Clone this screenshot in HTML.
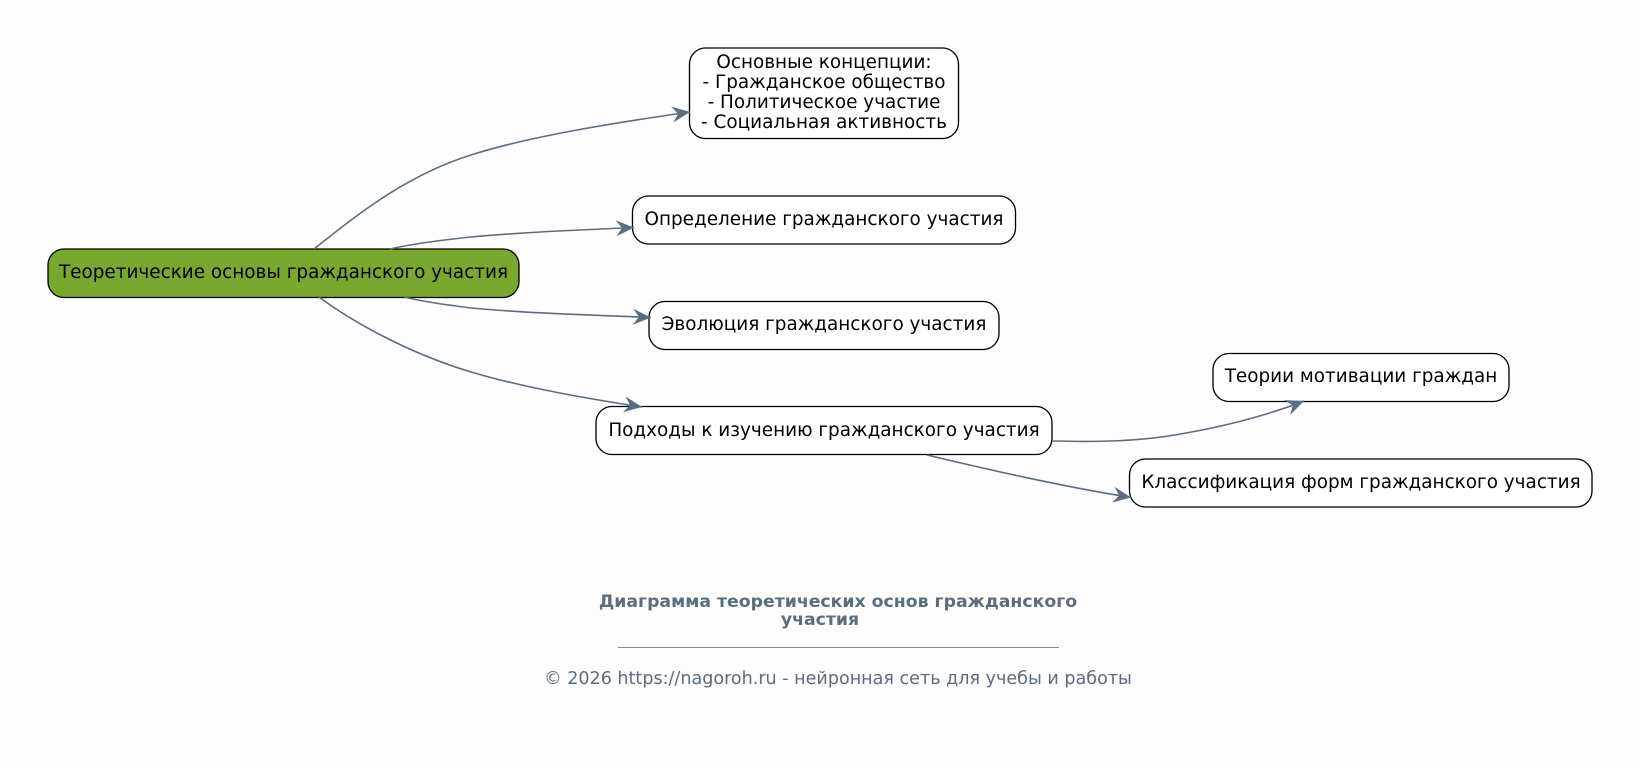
<!DOCTYPE html>
<html><head><meta charset="utf-8"><style>
html,body{margin:0;padding:0;background:#fdfdfd;width:1640px;height:763px;overflow:hidden}
svg{display:block}
.n{font-family:"DejaVu Sans",sans-serif;font-size:18.4px;fill:#000;text-anchor:middle}
.b{stroke:#000;stroke-width:1.33;fill:#fff}
.e{fill:none;stroke:#5d6d7e;stroke-width:1.6;marker-end:url(#v)}
.f{font-family:"DejaVu Sans",sans-serif;fill:#5d6d7e;text-anchor:middle}
</style></head><body>
<svg width="1640" height="763" viewBox="0 0 1640 763" xmlns="http://www.w3.org/2000/svg">
<defs><marker id="v" markerUnits="userSpaceOnUse" markerWidth="20" markerHeight="18" refX="18" refY="9" orient="auto"><path d="M0,1 L18,9 L0,17 L6,9 Z" fill="#5d6d7e"/></marker></defs>
<rect x="48" y="249" width="471" height="48.5" rx="16" class="b" style="fill:#78a92e"/>
<text x="283.5" y="278" class="n">Теоретические основы гражданского участия</text>
<rect x="689.5" y="48" width="269" height="90.5" rx="16" class="b"/>
<text x="824" y="68" class="n">Основные концепции:</text>
<text x="824" y="88" class="n">- Гражданское общество</text>
<text x="824" y="108" class="n">- Политическое участие</text>
<text x="824" y="128" class="n">- Социальная активность</text>
<rect x="632.5" y="196" width="383" height="48" rx="16" class="b"/>
<text x="824" y="225" class="n">Определение гражданского участия</text>
<rect x="649" y="301.5" width="350" height="48" rx="16" class="b"/>
<text x="824" y="330" class="n">Эволюция гражданского участия</text>
<rect x="596" y="406.5" width="456" height="48" rx="16" class="b"/>
<text x="824" y="436" class="n">Подходы к изучению гражданского участия</text>
<rect x="1213" y="353.5" width="296" height="48" rx="16" class="b"/>
<text x="1361" y="382" class="n">Теории мотивации граждан</text>
<rect x="1129.5" y="459" width="462.5" height="48" rx="16" class="b"/>
<text x="1361" y="488" class="n">Классификация форм гражданского участия</text>
<path class="e" d="M314,249 C345,225 400,177 471,155 C530,136 620,122 690,112"/>
<path class="e" d="M390,249 C417,243 443,240 471,237 C525,232 580,230 634,227.500"/>
<path class="e" d="M404,297 C425,302 448,305 471,308 C525,313 590,315 651,317.500"/>
<path class="e" d="M319,297 C350,320 405,352 471,372 C525,388 590,399 642,407"/>
<path class="e" d="M1052,441 C1095,442 1140,442 1186,433 C1225,426 1268,415 1304,401"/>
<path class="e" d="M927,455 C990,470 1060,486 1131,497.500"/>
<text x="838" y="607" class="f" style="font-size:17.3px;font-weight:bold">Диаграмма теоретических основ гражданского</text>
<text x="820" y="625" class="f" style="font-size:17.3px;font-weight:bold">участия</text>
<line x1="618" y1="647.500" x2="1059" y2="647.500" stroke="#5d6d7e" stroke-width="1" stroke-opacity=".8"/>
<text x="838" y="684" class="f" style="font-size:17.56px">© 2026 https://nagoroh.ru - нейронная сеть для учебы и работы</text>
</svg>
</body></html>
